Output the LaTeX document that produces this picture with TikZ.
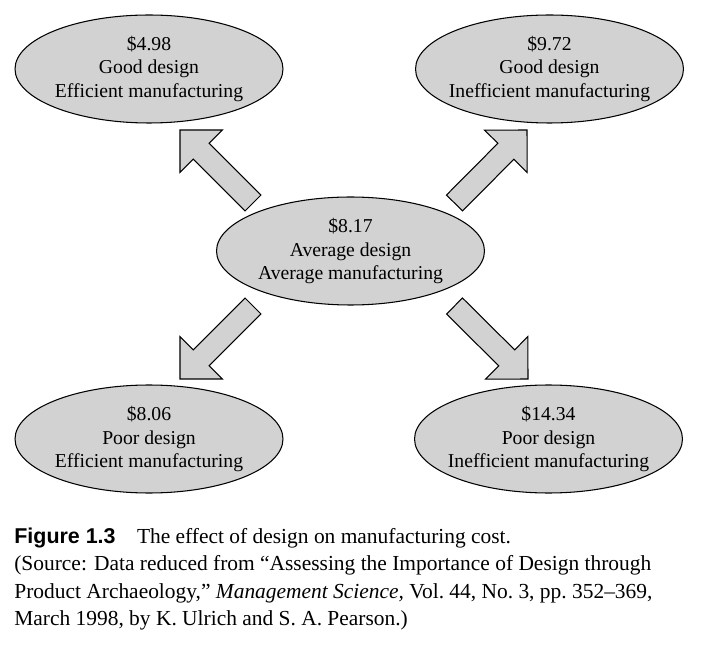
\documentclass[tikz,border=0pt]{standalone}
\usepackage{fontspec}
\setmainfont{Liberation Serif}
\newfontfamily\capsans{Liberation Sans}
\usetikzlibrary{calc,shapes.geometric,backgrounds}

% wide outlined arrow from tail #1 to tip #2
\newcommand{\fatarrow}[2]{%
  \coordinate (hb) at ($(#2)!0.6cm!(#1)$);
  \draw[blockarrow] ($(#1)!0.226cm!90:(#2)$) -- ($(hb)!0.226cm!-90:(#1)$)
    -- ($(hb)!0.6cm!-90:(#1)$) -- (#2) -- ($(hb)!0.6cm!90:(#1)$)
    -- ($(hb)!0.226cm!90:(#1)$) -- ($(#1)!0.226cm!-90:(#2)$) -- cycle;
}

\begin{document}
\begin{tikzpicture}[x=0.02cm,y=-0.02cm,
    cost/.style={ellipse,draw,line width=0.6pt,fill=gray!35,
      inner xsep=-0.2cm,inner ysep=0pt,
      minimum width=5.36cm,minimum height=2.16cm,align=center,
      font=\fontsize{11.2}{13.6}\selectfont},
    blockarrow/.style={draw,line width=0.6pt,fill=gray!35,line join=miter}]
  \useasboundingbox (0,0) rectangle (703,648);
  % the five cases
  \node[cost] (gde) at (149,69) {\$4.98\\Good design\\Efficient manufacturing};
  \node[cost] (gdi) at (549.5,69) {\$9.72\\Good design\\Inefficient manufacturing};
  \node[cost] (avg) at (350.5,251) {\$8.17\\Average design\\Average manufacturing};
  \node[cost] (pde) at (149,439) {\$8.06\\Poor design\\Efficient manufacturing};
  \node[cost] (pdi) at (548.5,439) {\$14.34\\Poor design\\Inefficient manufacturing};
  % arrow ends
  \coordinate (tlS) at (253,203);   \coordinate (tlT) at (180,130);
  \coordinate (trS) at (454.5,203); \coordinate (trT) at (527,130);
  \coordinate (blS) at (253,306);   \coordinate (blT) at (180,379);
  \coordinate (brS) at (454.5,306); \coordinate (brT) at (528,379);
  \begin{scope}[on background layer]
    \fatarrow{tlS}{tlT}
    \fatarrow{trS}{trT}
    \fatarrow{blS}{blT}
    \fatarrow{brS}{brT}
  \end{scope}
  % caption
  \node[anchor=north west,inner sep=0pt,align=left,
    font=\fontsize{12.2}{15.4}\selectfont] (cap) at (14,528)
    {{\capsans\bfseries Figure 1.3}\quad The effect of design on manufacturing cost.\\
     (Source: Data reduced from ``Assessing the Importance of Design through\\
     Product Archaeology,'' \textit{Management Science,} Vol.~44, No.~3, pp.~352--369,\\
     March 1998, by K. Ulrich and S. A. Pearson.)};
\end{tikzpicture}
\end{document}
